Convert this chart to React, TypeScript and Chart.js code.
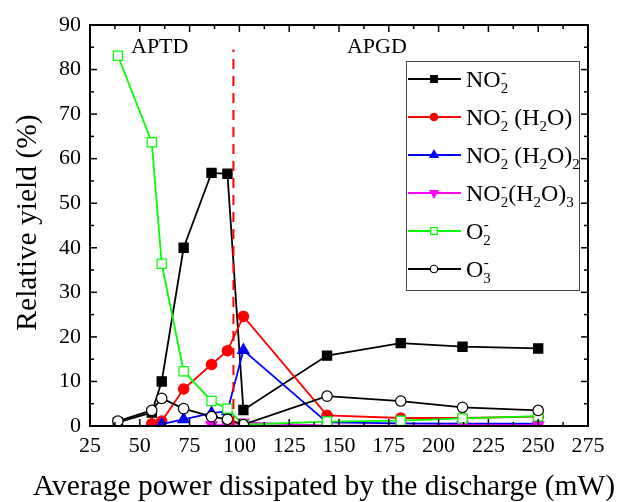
import React, { useEffect, useRef } from "react";
import { Chart, registerables } from "chart.js";
import { drawPoint } from "chart.js/helpers";

Chart.register(...registerables);

const FONT = "'Liberation Serif', 'Times New Roman', Times, serif";

// Discharge power (mW) at which each species was measured
const powerAll = [39, 56, 61, 72, 86, 94, 102, 144, 181, 212, 250];
const powerH2O = [56, 61, 72, 86, 94, 102, 144, 181, 212, 250];
const powerH2O2 = [61, 72, 86, 94, 102, 144, 181, 212, 250];
const powerH2O3 = [86, 94, 102, 144, 181, 212, 250];

// Relative yields (%)
const yieldNO2 = [0.8, 3.0, 10.0, 40.0, 56.8, 56.6, 3.6, 15.8, 18.6, 17.8, 17.4];
const yieldNO2H2O = [0.5, 1.1, 8.3, 13.8, 16.9, 24.6, 2.4, 1.8, 1.8, 2.1];
const yieldNO2H2O2 = [0.4, 1.5, 2.9, 3.3, 17.0, 0.8, 0.6, 0.5, 0.5];
const yieldNO2H2O3 = [0.2, 0.2, 0.8, 0.1, 0.1, 0.2, 0.2];
const yieldO2 = [83.1, 63.7, 36.4, 12.3, 5.6, 3.9, 0.3, 1.0, 1.2, 1.7, 2.2];
const yieldO3 = [1.1, 3.5, 6.2, 3.9, 2.1, 1.5, 0.3, 6.7, 5.6, 4.2, 3.5];

// APTD / APGD transition
const transitionPower = [97, 97];
const transitionYield = [0, 84.5];

// Axis ticks
const xTickValues = [25, 50, 75, 100, 125, 150, 175, 200, 225, 250, 275];
const yTickValues = [0, 10, 20, 30, 40, 50, 60, 70, 80, 90];

const xTitle = "Average power dissipated by the discharge (mW)";
const yTitle = "Relative yield (%)";

type Seg = { t?: string; sub?: string; sup?: string };

const labelNO2: Seg[] = [{ t: "NO" }, { sub: "2", sup: "-" }];
const labelNO2H2O: Seg[] = [{ t: "NO" }, { sub: "2", sup: "-" }, { t: " (H" }, { sub: "2" }, { t: "O)" }];
const labelNO2H2O2: Seg[] = [{ t: "NO" }, { sub: "2", sup: "-" }, { t: " (H" }, { sub: "2" }, { t: "O)" }, { sub: "2" }];
const labelNO2H2O3: Seg[] = [{ t: "NO" }, { sub: "2", sup: "-" }, { t: "(H" }, { sub: "2" }, { t: "O)" }, { sub: "3" }];
const labelO2: Seg[] = [{ t: "O" }, { sub: "2", sup: "-" }];
const labelO3: Seg[] = [{ t: "O" }, { sub: "3", sup: "-" }];

const regimeLabels = [
  { text: "APTD", x: 60, y: 85 },
  { text: "APGD", x: 169, y: 85 },
];

const series = [
  { key: "NO2-", label: labelNO2, x: powerAll, y: yieldNO2, color: "#000000", fill: "#000000", style: "rect", rot: 0, r: 6.5 },
  { key: "NO2-(H2O)", label: labelNO2H2O, x: powerH2O, y: yieldNO2H2O, color: "#ff0000", fill: "#ff0000", style: "circle", rot: 0, r: 5.2 },
  { key: "NO2-(H2O)2", label: labelNO2H2O2, x: powerH2O2, y: yieldNO2H2O2, color: "#0000ff", fill: "#0000ff", style: "triangle", rot: 0, r: 6.5 },
  { key: "NO2-(H2O)3", label: labelNO2H2O3, x: powerH2O3, y: yieldNO2H2O3, color: "#ff00ff", fill: "#ff00ff", style: "triangle", rot: 180, r: 6.5 },
  { key: "O2-", label: labelO2, x: powerAll, y: yieldO2, color: "#00ff00", fill: "#ffffff", style: "rect", rot: 0, r: 6.5 },
  { key: "O3-", label: labelO3, x: powerAll, y: yieldO3, color: "#000000", fill: "#ffffff", style: "circle", rot: 0, r: 5.2 },
];

const framePlugin = {
  id: "frame",
  afterDatasetsDraw(chart: any) {
    const { ctx, chartArea, scales } = chart;
    const { left, right, top, bottom } = chartArea;
    const xs = scales.x;
    const ys = scales.y;
    ctx.save();
    ctx.strokeStyle = "#000";
    ctx.lineWidth = 1.5;
    const major = 7;
    const minor = 4;
    const seg = (x1: number, y1: number, x2: number, y2: number) => {
      ctx.beginPath();
      ctx.moveTo(x1, y1);
      ctx.lineTo(x2, y2);
      ctx.stroke();
    };
    xTickValues.forEach((v, i) => {
      const px = xs.getPixelForValue(v);
      seg(px, bottom, px, bottom - major);
      seg(px, top, px, top + major);
      if (i < xTickValues.length - 1) {
        const m = xs.getPixelForValue((v + xTickValues[i + 1]) / 2);
        seg(m, bottom, m, bottom - minor);
        seg(m, top, m, top + minor);
      }
    });
    yTickValues.forEach((v, i) => {
      const py = ys.getPixelForValue(v);
      seg(left, py, left + major, py);
      seg(right, py, right - major, py);
      if (i < yTickValues.length - 1) {
        const m = ys.getPixelForValue((v + yTickValues[i + 1]) / 2);
        seg(left, m, left + minor, m);
        seg(right, m, right - minor, m);
      }
    });
    ctx.lineWidth = 2;
    ctx.strokeRect(left, top, right - left, bottom - top);
    ctx.restore();
  },
};

const regimePlugin = {
  id: "regimes",
  afterDatasetsDraw(chart: any) {
    const { ctx, scales } = chart;
    ctx.save();
    ctx.fillStyle = "#000";
    ctx.font = `22px ${FONT}`;
    ctx.textAlign = "center";
    ctx.textBaseline = "middle";
    regimeLabels.forEach((l) => {
      ctx.fillText(l.text, scales.x.getPixelForValue(l.x), scales.y.getPixelForValue(l.y));
    });
    ctx.restore();
  },
};

// Axis titles drawn at their natural width (the built-in titles get squeezed to the scale width)
const axisTitlePlugin = {
  id: "axisTitles",
  afterDraw(chart: any) {
    const { ctx, chartArea } = chart;
    ctx.save();
    ctx.fillStyle = "#000";
    ctx.font = `29.5px ${FONT}`;
    ctx.textAlign = "center";
    ctx.textBaseline = "middle";
    ctx.fillText(xTitle, (chartArea.left + chartArea.right) / 2 - 15, chartArea.bottom + 61);
    ctx.translate(28, (chartArea.top + chartArea.bottom) / 2 - 3);
    ctx.rotate(-Math.PI / 2);
    ctx.fillText(yTitle, 0, 0);
    ctx.restore();
  },
};

const drawRich = (ctx: CanvasRenderingContext2D, segs: Seg[], x: number, baseline: number) => {
  let cx = x;
  segs.forEach((s) => {
    if (s.t) {
      ctx.font = `24px ${FONT}`;
      ctx.fillText(s.t, cx, baseline);
      cx += ctx.measureText(s.t).width;
    } else {
      ctx.font = `15px ${FONT}`;
      let w = 0;
      if (s.sub) {
        ctx.fillText(s.sub, cx, baseline + 6);
        w = Math.max(w, ctx.measureText(s.sub).width);
      }
      if (s.sup) {
        ctx.fillText(s.sup, cx + 0.5, baseline - 10);
        w = Math.max(w, ctx.measureText(s.sup).width);
      }
      cx += w;
    }
  });
};

const legendPlugin = {
  id: "speciesLegend",
  afterDraw(chart: any) {
    const { ctx, chartArea } = chart;
    const bx = chartArea.left + 316;
    const by = chartArea.top + 36;
    const bw = 173;
    const bh = 229;
    ctx.save();
    ctx.fillStyle = "#ffffff";
    ctx.fillRect(bx, by, bw, bh);
    ctx.strokeStyle = "#444";
    ctx.lineWidth = 1;
    ctx.strokeRect(bx + 0.5, by + 0.5, bw, bh);
    series.forEach((s, i) => {
      const cy = by + 18 + i * 38;
      ctx.strokeStyle = s.color;
      ctx.lineWidth = 1.8;
      ctx.beginPath();
      ctx.moveTo(bx + 2, cy);
      ctx.lineTo(bx + 55, cy);
      ctx.stroke();
      ctx.fillStyle = s.fill;
      ctx.lineWidth = 1.2;
      drawPoint(ctx, { pointStyle: s.style as any, rotation: s.rot, radius: s.r * 0.72, borderWidth: 1.2 }, bx + 28, cy);
      ctx.fillStyle = "#000";
      ctx.textAlign = "left";
      ctx.textBaseline = "alphabetic";
      drawRich(ctx, s.label, bx + 60, cy + 8);
    });
    ctx.restore();
  },
};

export default function App() {
  const ref = useRef<HTMLCanvasElement>(null);

  useEffect(() => {
    const canvas = ref.current;
    if (!canvas) return;

    const datasets: any[] = series.map((s, i) => ({
      label: s.key,
      data: s.x.map((x, j) => ({ x, y: s.y[j] })),
      borderColor: s.color,
      backgroundColor: s.fill,
      borderWidth: 1.8,
      pointStyle: s.style,
      pointRotation: s.rot,
      pointRadius: s.r,
      pointBackgroundColor: s.fill,
      pointBorderColor: s.color,
      pointBorderWidth: 1.2,
      fill: false,
      order: series.length - i,
    }));
    datasets.push({
      label: "transition",
      data: transitionPower.map((x, j) => ({ x, y: transitionYield[j] })),
      borderColor: "#ff0000",
      borderWidth: 2,
      borderDash: [10, 7],
      pointRadius: 0,
      fill: false,
      order: 0,
    });

    const tickFont = { family: FONT, size: 22 };

    const chart = new Chart(canvas, {
      type: "line",
      data: { datasets },
      options: {
        animation: false,
        responsive: true,
        maintainAspectRatio: false,
        layout: { padding: { left: 0, top: 25, right: 34, bottom: 0 } },
        elements: { line: { tension: 0 } },
        plugins: { legend: { display: false }, tooltip: { enabled: false } },
        scales: {
          x: {
            type: "linear",
            min: 25,
            max: 275,
            afterBuildTicks: (s: any) => {
              s.ticks = xTickValues.map((v) => ({ value: v }));
            },
            afterFit: (s: any) => {
              s.height = 76;
            },
            grid: { display: false, drawTicks: false },
            border: { display: false },
            ticks: { color: "#000", font: tickFont, padding: 7, maxRotation: 0, autoSkip: false },
            title: { display: false },
          },
          y: {
            type: "linear",
            min: 0,
            max: 90,
            afterBuildTicks: (s: any) => {
              s.ticks = yTickValues.map((v) => ({ value: v }));
            },
            afterFit: (s: any) => {
              s.width = 90;
            },
            grid: { display: false, drawTicks: false },
            border: { display: false },
            ticks: { color: "#000", font: tickFont, padding: 9 },
            title: { display: false },
          },
        },
      } as any,
      plugins: [framePlugin, regimePlugin, legendPlugin, axisTitlePlugin],
    });

    return () => chart.destroy();
  }, []);

  return (
    <div style={{ position: "fixed", left: 0, top: 0, width: 622, height: 502, background: "#ffffff" }}>
      <canvas ref={ref} />
    </div>
  );
}
